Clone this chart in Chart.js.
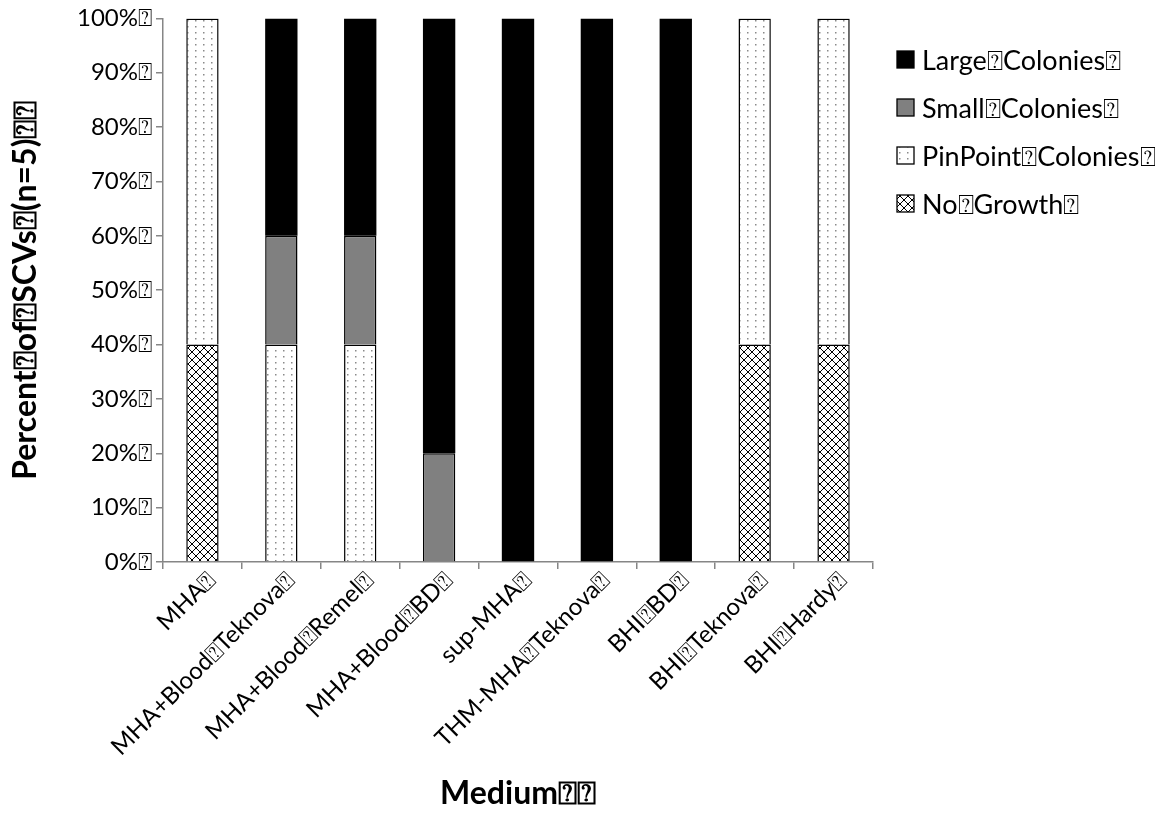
<!DOCTYPE html>
<html>
<head>
<meta charset="utf-8">
<script src="https://cdn.jsdelivr.net/npm/chart.js@4"></script>
<style>
  html, body { margin: 0; padding: 0; background: #fff; overflow: hidden; }
  #wrap { width: 1155px; height: 813px; position: relative; }
</style>
</head>
<body>
<div id="wrap"><canvas id="chart" width="1155" height="813"></canvas></div>
<script>
const Q = '\u2370';

const categories = [
    'MHA' + Q, 'MHA+Blood' + Q + 'Teknova' + Q, 'MHA+Blood' + Q + 'Remel' + Q,
    'MHA+Blood' + Q + 'BD' + Q, 'sup-MHA' + Q, 'THM-MHA' + Q + 'Teknova' + Q,
    'BHI' + Q + 'BD' + Q, 'BHI' + Q + 'Teknova' + Q, 'BHI' + Q + 'Hardy' + Q
];

// percent of SCVs, stacked bottom to top
const noGrowth = [40, 0, 0, 0, 0, 0, 0, 40, 40];
const pinPoint = [60, 40, 40, 0, 0, 0, 0, 60, 60];
const smallColonies = [0, 20, 20, 20, 0, 0, 0, 0, 0];
const largeColonies = [0, 40, 40, 80, 100, 100, 100, 0, 0];

const seriesNames = ['No' + Q + 'Growth' + Q, 'PinPoint' + Q + 'Colonies' + Q, 'Small' + Q + 'Colonies' + Q, 'Large' + Q + 'Colonies' + Q];
const yTicks = [0, 10, 20, 30, 40, 50, 60, 70, 80, 90, 100];

const FONT = "Lato, 'Open Sans', sans-serif";
const AXIS_GREY = '#868686';

// fill patterns
function makePattern(w, h, draw) {
    const c = document.createElement('canvas');
    c.width = w; c.height = h;
    const g = c.getContext('2d');
    g.fillStyle = '#fff';
    g.fillRect(0, 0, w, h);
    draw(g);
    return document.getElementById('chart').getContext('2d').createPattern(c, 'repeat');
}

const crossHatch = makePattern(8, 8, g => {
    g.strokeStyle = '#000';
    g.lineWidth = 1;
    g.beginPath();
    g.moveTo(0, 0); g.lineTo(8, 8);
    g.moveTo(8, 0); g.lineTo(0, 8);
    g.stroke();
});

const dots = makePattern(8, 6, g => {
    g.fillStyle = '#8a8a8a';
    g.fillRect(3, 2, 1.5, 1.5);
});

// legend drawn at the right, largest first
const sideLegend = {
    id: 'sideLegend',
    afterDraw(chart) {
        const ctx = chart.ctx;
        const ds = chart.data.datasets.slice().reverse();
        ctx.save();
        ctx.font = '27px ' + FONT;
        ctx.textBaseline = 'middle';
        ds.forEach((d, i) => {
            const y = 60 + i * 48;
            ctx.fillStyle = d.backgroundColor;
            ctx.fillRect(897, y - 9, 17, 17);
            ctx.strokeStyle = '#000';
            ctx.lineWidth = 1.3;
            ctx.strokeRect(897, y - 9, 17, 17);
            ctx.fillStyle = '#000';
            ctx.fillText(d.label, 922, y + 1);
        });
        ctx.restore();
    }
};

const border = { borderColor: '#000', borderWidth: 1.5 };

new Chart(document.getElementById('chart'), {
    type: 'bar',
    data: {
        labels: categories,
        datasets: [
            { label: seriesNames[0], data: noGrowth, backgroundColor: crossHatch, ...border },
            { label: seriesNames[1], data: pinPoint, backgroundColor: dots, ...border },
            { label: seriesNames[2], data: smallColonies, backgroundColor: '#808080', ...border },
            { label: seriesNames[3], data: largeColonies, backgroundColor: '#000', borderColor: '#000', borderWidth: 0 }
        ]
    },
    options: {
        responsive: false,
        animation: false,
        layout: { padding: { left: 0, right: 282, top: 14, bottom: 0 } },
        datasets: { bar: { categoryPercentage: 0.41, barPercentage: 1 } },
        plugins: { legend: { display: false }, tooltip: { enabled: false } },
        scales: {
            x: {
                stacked: true,
                afterFit: s => { s.height = 813 - 562; },
                border: { color: AXIS_GREY, width: 1.5 },
                grid: { drawOnChartArea: false, drawTicks: true, tickLength: 7, color: AXIS_GREY, lineWidth: 1.5 },
                ticks: {
                    autoSkip: false, minRotation: 45, maxRotation: 45, padding: -3, labelOffset: 9,
                    color: '#000', font: { family: FONT, size: 24 }
                },
                title: {
                    display: true, text: 'Medium' + Q + Q, color: '#000',
                    padding: { top: 4, bottom: 0 },
                    font: { family: FONT, size: 32, weight: 'bold' }
                }
            },
            y: {
                stacked: true,
                min: 0, max: 100,
                afterFit: s => { s.width = 163; },
                afterBuildTicks: s => { s.ticks = yTicks.map(v => ({ value: v })); },
                border: { color: AXIS_GREY, width: 1.5 },
                grid: { drawOnChartArea: false, drawTicks: true, tickLength: 7, color: AXIS_GREY, lineWidth: 1.5 },
                ticks: {
                    padding: 4, color: '#000', font: { family: FONT, size: 24 },
                    callback: v => v + '%' + Q
                },
                title: {
                    display: true, text: 'Percent' + Q + 'of' + Q + 'SCVs' + Q + '(n=5)' + Q + Q, color: '#000',
                    padding: { top: 6, bottom: 0 },
                    font: { family: FONT, size: 32, weight: 'bold' }
                }
            }
        }
    },
    plugins: [sideLegend]
});
</script>
</body>
</html>
